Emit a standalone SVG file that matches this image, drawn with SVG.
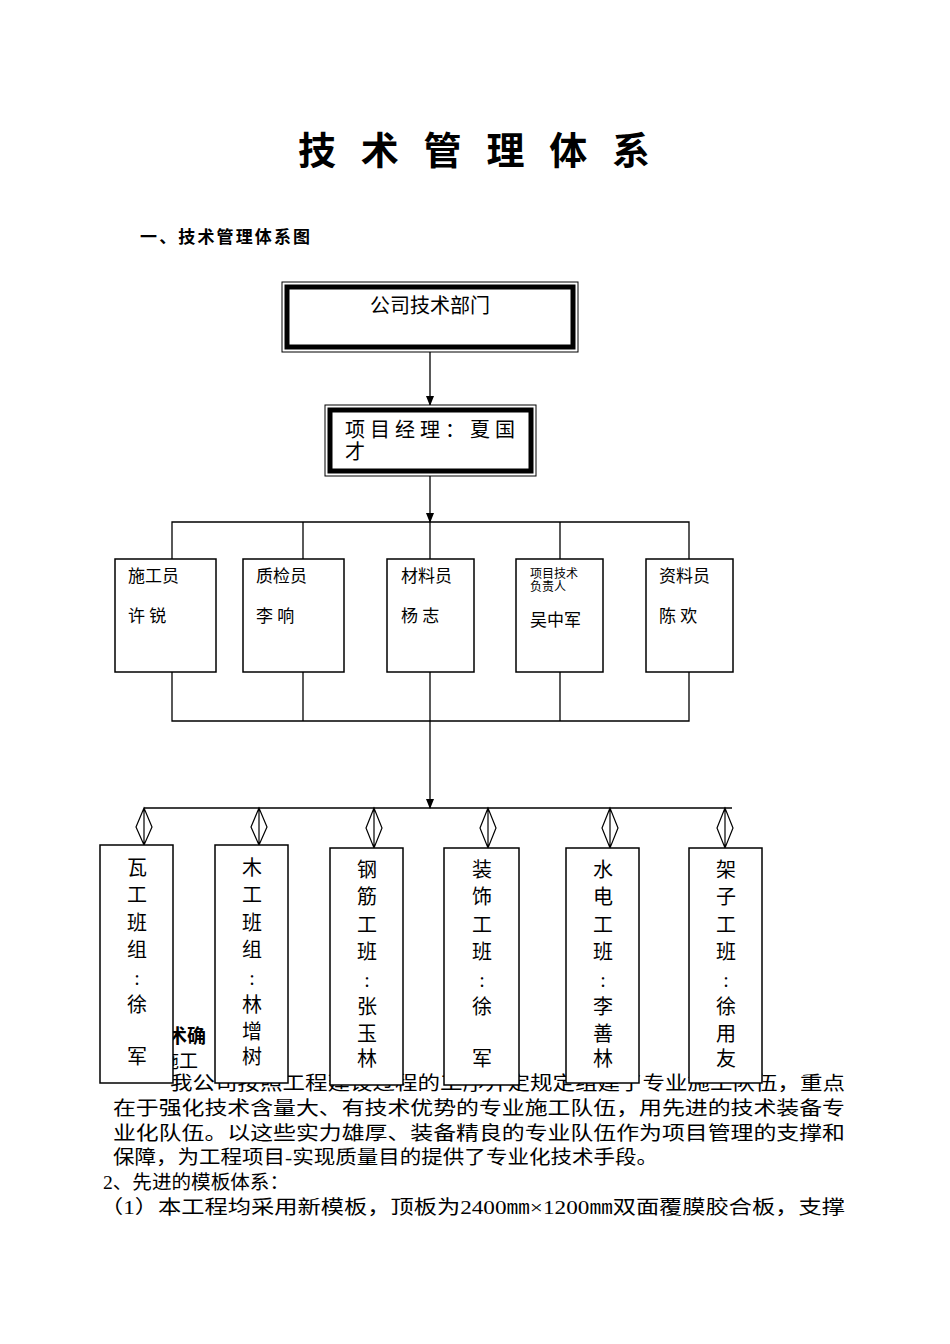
<svg xmlns="http://www.w3.org/2000/svg" width="950" height="1344" viewBox="0 0 950 1344">
<defs>
<style>
text{font-family:"Liberation Serif","Noto Sans CJK SC",serif;fill:#000}
.ln{stroke:#000;stroke-width:1.3;fill:none}
.bx{fill:#fff;stroke:#000;stroke-width:1.5}
.p{font-size:19px}
.v{font-size:20px;text-anchor:middle}
.s{font-size:17px}
.dm{fill:none;stroke:#000;stroke-width:1.2}
</style>
<marker id="ar" markerWidth="10" markerHeight="10" refX="9" refY="5" orient="auto" markerUnits="userSpaceOnUse"><path d="M0,1 L10,5 L0,9Z" fill="#000"/></marker>
</defs>
<rect width="950" height="1344" fill="#fff"/>
<text x="298" y="164" font-size="38" font-weight="bold" textLength="352" lengthAdjust="spacing">技术管理体系</text>
<text x="140" y="243" font-size="17" font-weight="bold" textLength="170" lengthAdjust="spacing">一、技术管理体系图</text>
<g id="body-text" class="p">
<text x="168" y="1043" font-weight="bold">术确</text>
<text x="160" y="1068">施工</text>
<text x="170" y="1090" textLength="675" lengthAdjust="spacingAndGlyphs">我公司按照工程建设过程的工序并定规定组建了专业施工队伍，重点</text>
<text x="113" y="1115" textLength="732" lengthAdjust="spacingAndGlyphs">在于强化技术含量大、有技术优势的专业施工队伍，用先进的技术装备专</text>
<text x="113" y="1140" textLength="732" lengthAdjust="spacingAndGlyphs">业化队伍。以这些实力雄厚、装备精良的专业队伍作为项目管理的支撑和</text>
<text x="113" y="1164" textLength="545" lengthAdjust="spacingAndGlyphs">保障，为工程项目-实现质量目的提供了专业化技术手段。</text>
<text x="103" y="1189" textLength="186" lengthAdjust="spacingAndGlyphs">2、先进的模板体系：</text>
<text x="100" y="1214" textLength="745" lengthAdjust="spacingAndGlyphs">（1）本工程均采用新模板，顶板为2400㎜×1200㎜双面覆膜胶合板，支撑</text>
</g>
<g id="connectors">
<line class="ln" x1="430" y1="352" x2="430" y2="405" marker-end="url(#ar)"/>
<line class="ln" x1="430" y1="476" x2="430" y2="522" marker-end="url(#ar)"/>
<polyline class="ln" points="172,559 172,522 689,522 689,559"/>
<line class="ln" x1="303" y1="522" x2="303" y2="559"/>
<line class="ln" x1="430" y1="522" x2="430" y2="559"/>
<line class="ln" x1="560" y1="522" x2="560" y2="559"/>
<polyline class="ln" points="172,672 172,721 689,721 689,672"/>
<line class="ln" x1="303" y1="672" x2="303" y2="721"/>
<line class="ln" x1="430" y1="672" x2="430" y2="721"/>
<line class="ln" x1="560" y1="672" x2="560" y2="721"/>
<line class="ln" x1="430" y1="721" x2="430" y2="808" marker-end="url(#ar)"/>
<line class="ln" x1="144" y1="808" x2="732" y2="808"/>
<g class="dm">
<path d="M144,808 L136,827 L144,845 L152,827Z M144,808V845"/>
<path d="M259,808 L251,827 L259,845 L267,827Z M259,808V845"/>
<path d="M374,808 L366,828 L374,848 L382,828Z M374,808V848"/>
<path d="M488,808 L480,828 L488,848 L496,828Z M488,808V848"/>
<path d="M610,808 L602,828 L610,848 L618,828Z M610,808V848"/>
<path d="M725,808 L717,828 L725,848 L733,828Z M725,808V848"/>
</g>
</g>
<g id="n-company">
<rect x="282" y="282" width="296" height="70" fill="#fff" stroke="#000" stroke-width="1"/>
<rect x="287" y="287" width="286" height="60" fill="none" stroke="#000" stroke-width="5"/>
<text x="430" y="313" font-size="20" text-anchor="middle">公司技术部门</text>
</g>
<g id="n-pm">
<rect x="325" y="405" width="211" height="71" fill="#fff" stroke="#000" stroke-width="1"/>
<rect x="330" y="410" width="201" height="61" fill="none" stroke="#000" stroke-width="5"/>
<text x="345" y="437" font-size="20" letter-spacing="5">项目经理：夏国</text>
<text x="345" y="459" font-size="20">才</text>
</g>
<g id="n-sg"><rect class="bx" x="115" y="559" width="101" height="113"/><text x="128" y="582" class="s">施工员</text><text x="128" y="622" class="s">许 锐</text></g>
<g id="n-zj"><rect class="bx" x="243" y="559" width="101" height="113"/><text x="256" y="582" class="s">质检员</text><text x="256" y="622" class="s">李 响</text></g>
<g id="n-cl"><rect class="bx" x="387" y="559" width="87" height="113"/><text x="401" y="582" class="s">材料员</text><text x="401" y="622" class="s">杨 志</text></g>
<g id="n-js"><rect class="bx" x="516" y="559" width="87" height="113"/><text x="530" y="578" font-size="12">项目技术</text><text x="530" y="591" font-size="12">负责人</text><text x="530" y="626" class="s">吴中军</text></g>
<g id="n-zl"><rect class="bx" x="646" y="559" width="87" height="113"/><text x="659" y="582" class="s">资料员</text><text x="659" y="622" class="s">陈 欢</text></g>
<g id="t1"><rect class="bx" x="100" y="845" width="73" height="238"/>
<text class="v" x="137" y="875">瓦</text><text class="v" x="137" y="902">工</text><text class="v" x="137" y="930">班</text><text class="v" x="137" y="957">组</text><text class="v" x="137" y="985">:</text><text class="v" x="137" y="1012">徐</text><text class="v" x="137" y="1064">军</text></g>
<g id="t2"><rect class="bx" x="215" y="845" width="73" height="238"/>
<text class="v" x="252" y="875">木</text><text class="v" x="252" y="902">工</text><text class="v" x="252" y="930">班</text><text class="v" x="252" y="957">组</text><text class="v" x="252" y="985">:</text><text class="v" x="252" y="1012">林</text><text class="v" x="252" y="1039">增</text><text class="v" x="252" y="1064">树</text></g>
<g id="t3"><rect class="bx" x="330" y="848" width="73" height="237"/>
<text class="v" x="367" y="877">钢</text><text class="v" x="367" y="904">筋</text><text class="v" x="367" y="932">工</text><text class="v" x="367" y="959">班</text><text class="v" x="367" y="987">:</text><text class="v" x="367" y="1014">张</text><text class="v" x="367" y="1041">玉</text><text class="v" x="367" y="1066">林</text></g>
<g id="t4"><rect class="bx" x="444" y="848" width="75" height="237"/>
<text class="v" x="482" y="877">装</text><text class="v" x="482" y="904">饰</text><text class="v" x="482" y="932">工</text><text class="v" x="482" y="959">班</text><text class="v" x="482" y="987">:</text><text class="v" x="482" y="1014">徐</text><text class="v" x="482" y="1066">军</text></g>
<g id="t5"><rect class="bx" x="566" y="848" width="73" height="235"/>
<text class="v" x="603" y="877">水</text><text class="v" x="603" y="904">电</text><text class="v" x="603" y="932">工</text><text class="v" x="603" y="959">班</text><text class="v" x="603" y="987">:</text><text class="v" x="603" y="1014">李</text><text class="v" x="603" y="1041">善</text><text class="v" x="603" y="1066">林</text></g>
<g id="t6"><rect class="bx" x="689" y="848" width="73" height="235"/>
<text class="v" x="726" y="877">架</text><text class="v" x="726" y="904">子</text><text class="v" x="726" y="932">工</text><text class="v" x="726" y="959">班</text><text class="v" x="726" y="987">:</text><text class="v" x="726" y="1014">徐</text><text class="v" x="726" y="1041">用</text><text class="v" x="726" y="1066">友</text></g>
</svg>
